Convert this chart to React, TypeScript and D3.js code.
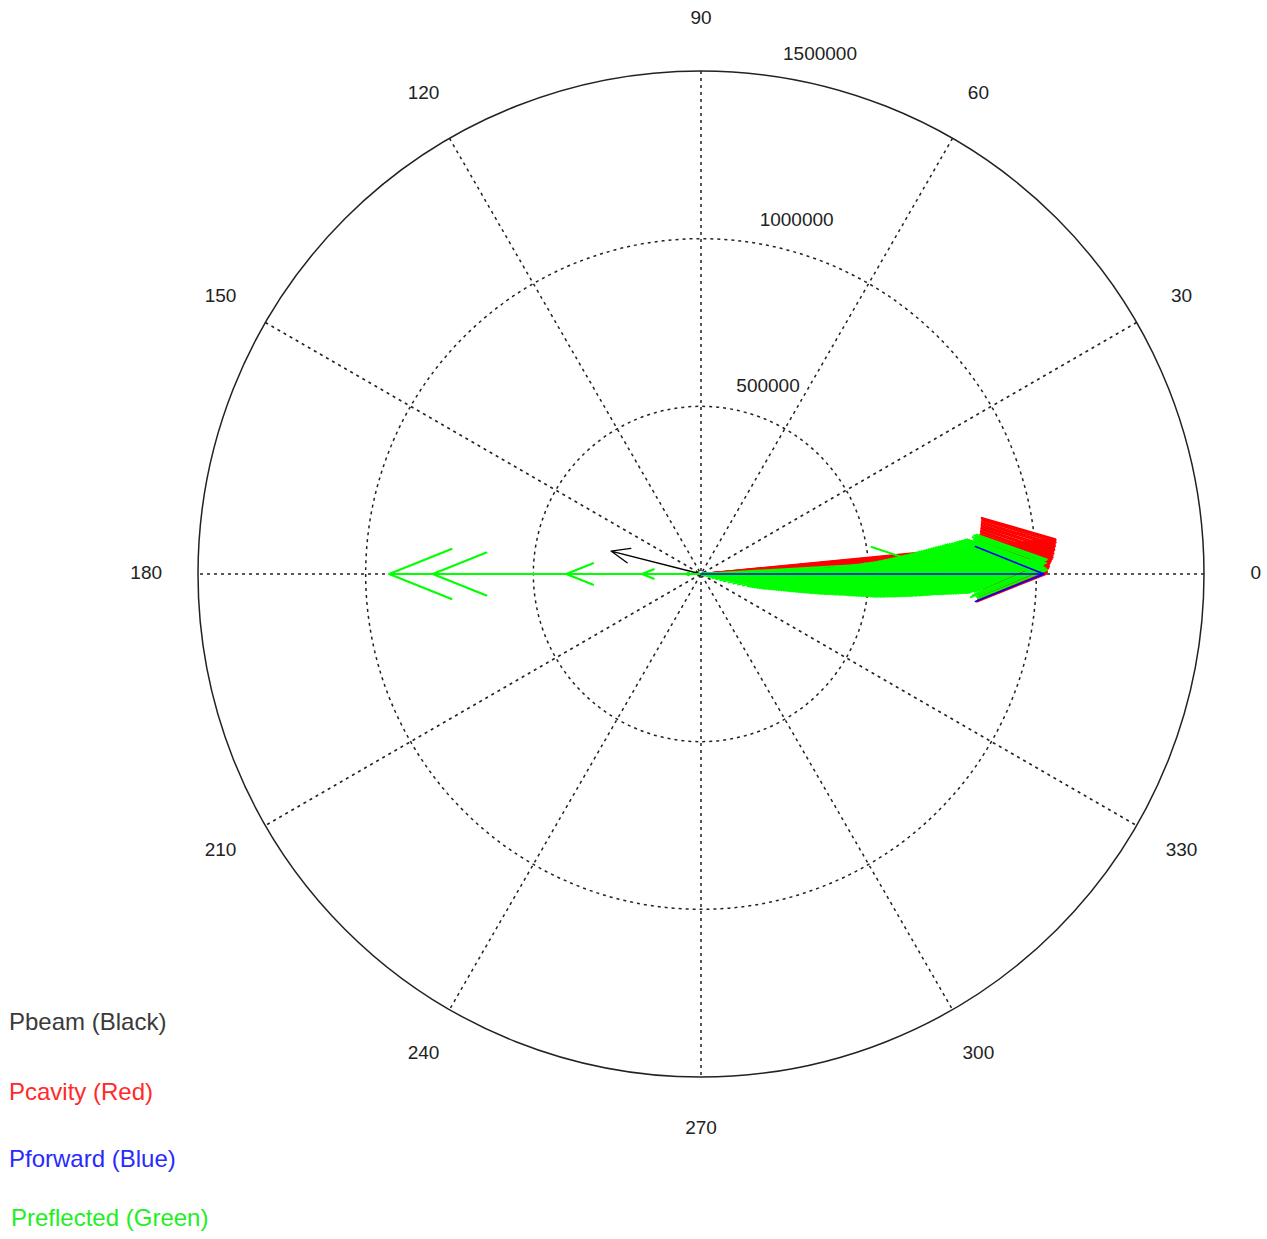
import React from "react";
import * as d3 from "d3";

// ---- data (magnitude in W, angle in degrees) ----
const beamMag = [277000];
const beamAng = [165.7];

const cavityMag = [1029000, 1032000, 1032000, 1035000, 1038000, 1038000, 1041000, 1044000, 1047000, 1050000,
  1050000, 1053000, 1053000, 1056000, 1056000, 1059000, 1059000, 1062000, 1062000, 1062000];
const cavityAng = [0.0, 0.3, 0.6, 0.9, 1.2, 1.5, 1.8, 2.1, 2.4, 2.7, 3.0, 3.3, 3.6, 3.9, 4.2, 4.5, 4.8, 5.1, 5.4, 5.6];

const forwardMag = [1023000];
const forwardAng = [0.0];

const reflectedMag = [930000, 800000, 402000, 176000, 45000,
  15000, 30000, 45000, 60000, 75000, 89000, 107000, 125000, 143000, 161000,
  179000, 197000, 215000, 233000, 250000, 268000, 286000, 304000, 322000, 340000,
  358000, 376000, 394000, 412000, 429000, 447000, 465000, 483000, 501000, 519000,
  537000, 555000, 573000, 590000, 608000, 626000, 644000, 662000, 680000, 698000,
  716000, 734000, 751000, 769000, 787000, 805000, 823000, 841000, 859000, 877000,
  895000, 913000, 930000, 948000, 966000, 984000, 996000, 1005000, 1011000, 1017000,
  1020000, 1023000, 1026000, 1029000, 1032000, 1032000, 641000,
  188000, 206000, 224000, 242000, 259000, 277000, 295000, 313000, 331000, 349000,
  367000, 385000, 403000, 420000, 438000, 456000, 474000, 492000, 510000, 528000,
  546000, 564000, 581000, 599000, 617000, 635000, 653000, 671000, 689000, 707000,
  725000, 742000, 760000, 778000, 796000, 814000, 832000, 850000, 868000, 886000,
  904000, 921000, 939000, 957000, 975000, 990000];
const reflectedAng = [180, 180, 180, 180, 180,
  -14.0, -13.6, -13.2, -12.8, -12.2, -11.8, -11.2, -10.6, -10.2, -9.6,
  -9.0, -8.6, -8.0, -7.6, -7.0, -6.6, -6.1, -5.8, -5.4, -5.2,
  -4.9, -4.6, -4.4, -4.1, -3.9, -3.7, -3.5, -3.2, -3.0, -2.8,
  -2.6, -2.5, -2.3, -2.2, -2.0, -1.9, -1.8, -1.6, -1.4, -1.2,
  -1.0, -0.8, -0.6, -0.4, -0.2, 0.0, 0.2, 0.4, 0.6, 0.8,
  0.9, 1.1, 1.2, 1.3, 1.5, 1.6, 1.7, 0.8, 1.2, 2.0,
  1.5, 2.3, 1.0, 1.8, 2.4, 0.7, 3.3,
  -8.8, -8.3, -7.8, -7.3, -6.8, -6.35, -5.95, -5.6, -5.3, -5.05,
  -4.75, -4.5, -4.25, -4.0, -3.8, -3.6, -3.35, -3.1, -2.9, -2.7,
  -2.55, -2.4, -2.25, -2.1, -1.95, -1.85, -1.7, -1.5, -1.3, -1.1,
  -0.9, -0.7, -0.5, -0.3, -0.1, 0.1, 0.3, 0.5, 0.7, 0.85,
  1.0, 1.15, 1.25, 1.4, 1.55, 1.65];

const ringValues = [500000, 1000000];
const ringLabels = ["500000", "1000000", "1500000"];
const rMax = 1500000;
const angleTicks = [0, 30, 60, 90, 120, 150, 180, 210, 240, 270, 300, 330];
const legendItems = ["Pbeam (Black)", "Pcavity (Red)", "Pforward (Blue)", "Preflected (Green)"];
const legendColors = ["#3a3a3a", "#ff2a2a", "#2a2aff", "#22ee22"];

const W = 1267;
const H = 1239;
const cx = 701;
const cy = 574;
const R = 503;

const rScale = d3.scaleLinear().domain([0, rMax]).range([0, R]);
const lineGen = d3.line<[number, number]>();

function toXY(r: number, deg: number): [number, number] {
  const a = (deg * Math.PI) / 180;
  return [cx + r * Math.cos(a), cy - r * Math.sin(a)];
}

function arrowPath(mag: number, deg: number): string {
  const r = rScale(mag);
  // MATLAB compass arrow: [0, 1, .8+.08i, 1, .8-.08i]
  const local: [number, number][] = [[0, 0], [1, 0], [0.8, 0.08], [1, 0], [0.8, -0.08]];
  const a = (deg * Math.PI) / 180;
  const pts = local.map(([x, y]) => {
    const X = x * r, Y = y * r;
    const xr = X * Math.cos(a) - Y * Math.sin(a);
    const yr = X * Math.sin(a) + Y * Math.cos(a);
    return [cx + xr, cy - yr] as [number, number];
  });
  return lineGen(pts) || "";
}

export default function App() {
  const font = "'Liberation Sans', Arial, sans-serif";
  const gridColor = "#222";
  return (
    <svg width={W} height={H} style={{ position: "absolute", left: 0, top: 0, background: "#fff" }}>
      {/* rings */}
      {ringValues.map((v) => (
        <circle key={v} cx={cx} cy={cy} r={rScale(v)} fill="none" stroke={gridColor} strokeWidth={1.5} strokeDasharray="3,4" />
      ))}
      {/* spokes */}
      {angleTicks.slice(0, 6).map((a) => {
        const [x1, y1] = toXY(R, a);
        const [x2, y2] = toXY(R, a + 180);
        return <line key={a} x1={x1} y1={y1} x2={x2} y2={y2} stroke={gridColor} strokeWidth={1.5} strokeDasharray="3,4" />;
      })}
      {/* outer circle */}
      <circle cx={cx} cy={cy} r={rScale(rMax)} fill="none" stroke="#222" strokeWidth={1.5} />
      {/* angle labels */}
      {angleTicks.map((a) => {
        const [x, y] = toXY(R * 1.103, a);
        return (
          <text key={a} x={x} y={y} textAnchor="middle" dominantBaseline="middle" fontFamily={font} fontSize={19} fill="#222">
            {a}
          </text>
        );
      })}
      {/* radial labels */}
      {[...ringValues, rMax].map((v, i) => {
        const [x, y] = toXY(rScale(v), 82);
        return (
          <text key={v} x={x + 12} y={y - 21} textAnchor="start" dominantBaseline="middle" fontFamily={font} fontSize={19} fill="#222">
            {ringLabels[i]}
          </text>
        );
      })}
      {/* arrows */}
      <g fill="none" strokeLinejoin="round" strokeLinecap="round">
        {beamMag.map((m, i) => (
          <path key={"b" + i} d={arrowPath(m, beamAng[i])} stroke="#000" strokeWidth={1.3} />
        ))}
        {cavityMag.map((m, i) => (
          <path key={"c" + i} d={arrowPath(m, cavityAng[i])} stroke="#ff0000" strokeWidth={2} />
        ))}
        {reflectedMag.map((m, i) => (
          <path key={"r" + i} d={arrowPath(m, reflectedAng[i])} stroke="#00ff00" strokeWidth={2} />
        ))}
        {forwardMag.map((m, i) => (
          <path key={"f" + i} d={arrowPath(m, forwardAng[i])} stroke="#0000ff" strokeWidth={1.6} />
        ))}
      </g>
      {/* legend */}
      {legendItems.map((t, i) => (
        <text key={t} x={i === 3 ? 11 : 9} y={[1024, 1094, 1161, 1220][i]} dominantBaseline="middle" fontFamily={font} fontSize={24} fill={legendColors[i]}>
          {t}
        </text>
      ))}
    </svg>
  );
}
